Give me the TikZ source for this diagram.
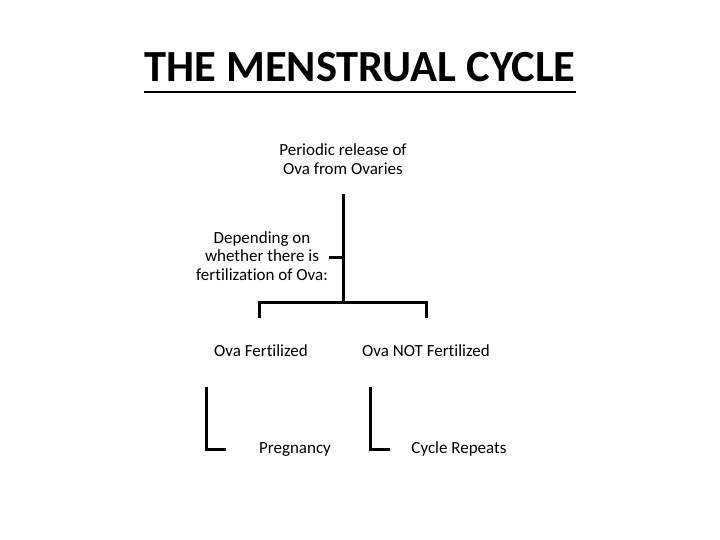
\documentclass[tikz,border=0pt]{standalone}
\usepackage{fontspec}
\setmainfont[Ligatures=NoCommon]{Carlito}
\begin{document}
\begin{tikzpicture}[x=1pt,y=-1pt,
  lbl/.style={align=center,inner sep=0pt,font=\fontsize{17}{18.5}\selectfont},
  bar/.style={line width=3pt}]
\useasboundingbox (0,0) rectangle (720,540);
\node[inner sep=0pt,anchor=base,font=\fontsize{44.5}{50}\selectfont\bfseries] (title) at (360,82) {THE MENSTRUAL CYCLE};
\draw[line width=2.6pt] (title.west |- 0,92) -- (title.east |- 0,92);
\node[lbl] (root) at (343,159) {Periodic release of\\Ova from Ovaries};
\node[lbl] (dep) at (262,256) {Depending on\\whether there is\\fertilization of Ova:};
\node[lbl,anchor=base] (fert) at (261,356) {Ova Fertilized};
\node[lbl,anchor=base] (notf) at (426,356) {Ova NOT Fertilized};
\node[lbl,anchor=base] (preg) at (295,453) {Pregnancy};
\node[lbl,anchor=base] (cyc) at (459,453) {Cycle Repeats};
\coordinate (vt) at (343,194);
\coordinate (vb) at (343,302);
\coordinate (tk) at (329,257);
\coordinate (hl) at (259,302);
\coordinate (hr) at (426,302);
\draw[bar] (vt) -- (vb);
\draw[bar] (tk) -- (tk -| vt);
\draw[bar] (259,318) -- (hl) -- (hr) -- (426,318);
\draw[bar] (206,387) -- (206,449) -- (226,449);
\draw[bar] (370,387) -- (370,449) -- (390,449);
\end{tikzpicture}
\end{document}
